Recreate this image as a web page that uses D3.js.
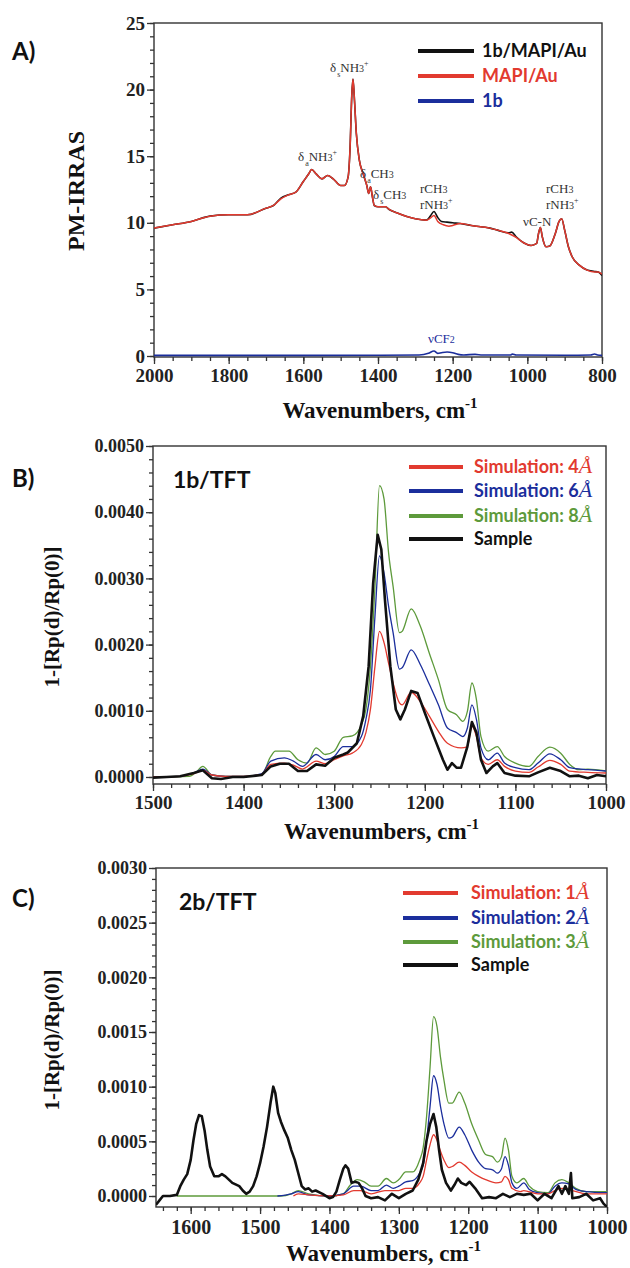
<!DOCTYPE html>
<html>
<head>
<meta charset="utf-8">
<script src="https://cdn.jsdelivr.net/npm/d3@7"></script>
<style>
  body { margin: 0; background: #fff; }
  svg text { font-family: "Liberation Serif", "Times New Roman", serif; }
  .tick text { font-weight: bold; fill: #222; }
  .sans { font-family: Lato, "Open Sans", sans-serif !important; font-weight: 700; }
</style>
</head>
<body>
<svg id="fig" width="630" height="1268"></svg>
<script>
// *************************************
// DATA  (wavenumber, value)
// *************************************

// Panel A - PM-IRRAS
const xTicksA = [2000, 1800, 1600, 1400, 1200, 1000, 800];
const yTicksA = [0, 5, 10, 15, 20, 25];

const mapiAu = [
  [2000, 9.6], [1950, 9.85], [1900, 10.1], [1850, 10.5], [1800, 10.6], [1750, 10.6], [1700, 11.1],
  [1680, 11.3], [1660, 11.8], [1640, 12.1], [1620, 12.3], [1600, 13.1], [1585, 13.7], [1578, 14.0],
  [1565, 13.65], [1550, 13.3], [1535, 13.55], [1520, 13.3], [1500, 12.8], [1490, 12.8], [1480, 13.45],
  [1475, 15.5], [1470, 19.7], [1467, 20.8], [1463, 19.2], [1458, 16.7], [1450, 14.7], [1440, 13.7],
  [1430, 12.8], [1425, 12.2], [1420, 12.7], [1415, 11.95], [1410, 11.3], [1400, 11.2], [1380, 11.2],
  [1370, 11.0], [1350, 10.75], [1300, 10.3], [1270, 10.2], [1260, 10.35], [1250, 10.55], [1240, 10.1],
  [1225, 9.85], [1210, 9.75], [1200, 9.8], [1180, 9.95], [1150, 9.8], [1100, 9.6], [1080, 9.45],
  [1050, 9.2], [1030, 8.9], [1010, 8.5], [990, 8.3], [975, 8.45], [970, 9.2], [965, 9.65], [960, 8.95],
  [950, 8.2], [940, 8.25], [925, 9.2], [915, 10.1], [908, 10.3], [900, 9.45], [890, 8.2], [880, 7.45],
  [860, 6.8], [840, 6.45], [820, 6.3], [810, 6.3], [800, 6.15]
];

const mapiAu1b = [
  [2000, 9.6], [1950, 9.85], [1900, 10.1], [1850, 10.5], [1800, 10.6], [1750, 10.6], [1700, 11.1],
  [1680, 11.3], [1660, 11.85], [1640, 12.1], [1620, 12.3], [1600, 13.1], [1585, 13.7], [1578, 14.0],
  [1565, 13.65], [1550, 13.3], [1535, 13.55], [1520, 13.3], [1500, 12.8], [1490, 12.8], [1480, 13.45],
  [1475, 15.5], [1470, 19.7], [1467, 20.8], [1463, 19.2], [1458, 16.7], [1450, 14.7], [1440, 13.7],
  [1430, 12.8], [1425, 12.2], [1420, 12.7], [1415, 11.95], [1410, 11.3], [1400, 11.2], [1380, 11.2],
  [1370, 11.0], [1350, 10.75], [1300, 10.3], [1270, 10.2], [1260, 10.5], [1250, 10.85], [1240, 10.4],
  [1230, 10.1], [1215, 10.05], [1200, 10.0], [1180, 9.95], [1150, 9.8], [1100, 9.6], [1080, 9.45],
  [1050, 9.25], [1042, 9.3], [1030, 8.95], [1010, 8.5], [990, 8.3], [975, 8.45], [970, 9.2], [965, 9.65],
  [960, 8.95], [950, 8.2], [940, 8.25], [925, 9.2], [915, 10.1], [908, 10.3], [900, 9.45], [890, 8.2],
  [880, 7.45], [860, 6.8], [840, 6.45], [820, 6.35], [810, 6.3], [800, 6.05]
];

const film1b = [
  [2000, 0.05], [1800, 0.05], [1600, 0.05], [1400, 0.06], [1290, 0.08], [1265, 0.2], [1250, 0.38],
  [1240, 0.2], [1230, 0.25], [1215, 0.3], [1200, 0.25], [1185, 0.12], [1170, 0.08], [1140, 0.12],
  [1120, 0.07], [1045, 0.08], [1040, 0.14], [1030, 0.07], [900, 0.06], [830, 0.08], [820, 0.15],
  [812, 0.08], [800, 0.05]
];

// Panel B - 1b/TFT
const xTicksB = [1500, 1400, 1300, 1200, 1100, 1000];
const yTicksB = [0, 0.001, 0.002, 0.003, 0.004, 0.005];

const sim4B = [
  [1500, 0.00000], [1470, 0.00001], [1455, 0.00005], [1445, 0.00010], [1435, 0.00003], [1420, 0.00001],
  [1400, 0.00001], [1380, 0.00004], [1370, 0.00019], [1355, 0.00021], [1345, 0.00018], [1335, 0.00012],
  [1320, 0.00024], [1310, 0.00020], [1300, 0.00026], [1290, 0.00032], [1280, 0.00036], [1270, 0.00049],
  [1265, 0.00067], [1260, 0.00102], [1255, 0.00167], [1250, 0.00220], [1245, 0.00203], [1240, 0.00172],
  [1235, 0.00142], [1228, 0.00112], [1225, 0.00109], [1215, 0.00128], [1205, 0.00114], [1195, 0.00092],
  [1185, 0.00069], [1175, 0.00051], [1160, 0.00044], [1153, 0.00046], [1148, 0.00077], [1143, 0.00061],
  [1138, 0.00029], [1130, 0.00019], [1120, 0.00026], [1112, 0.00016], [1100, 0.00009], [1085, 0.00007],
  [1075, 0.00015], [1062, 0.00025], [1050, 0.00019], [1040, 0.00009], [1020, 0.00007], [1000, 0.00006]
];

const sim6B = [
  [1500, 0.00000], [1470, 0.00001], [1455, 0.00006], [1445, 0.00012], [1435, 0.00003], [1420, 0.00001],
  [1400, 0.00001], [1380, 0.00005], [1370, 0.00024], [1355, 0.00029], [1345, 0.00024], [1335, 0.00016],
  [1320, 0.00034], [1310, 0.00026], [1300, 0.00031], [1290, 0.00046], [1280, 0.00046], [1270, 0.00061],
  [1265, 0.00087], [1260, 0.00132], [1255, 0.00243], [1250, 0.00334], [1245, 0.00308], [1240, 0.00258],
  [1235, 0.00218], [1228, 0.00163], [1225, 0.00165], [1215, 0.00192], [1205, 0.00170], [1195, 0.00140],
  [1185, 0.00109], [1175, 0.00074], [1165, 0.00067], [1158, 0.00061], [1153, 0.00074], [1148, 0.00109],
  [1143, 0.00087], [1138, 0.00044], [1130, 0.00026], [1120, 0.00036], [1112, 0.00021], [1100, 0.00014],
  [1085, 0.00011], [1075, 0.00021], [1062, 0.00035], [1050, 0.00026], [1040, 0.00014], [1020, 0.00011],
  [1000, 0.00009]
];

const sim8B = [
  [1500, 0.00000], [1460, 0.00001], [1452, 0.00008], [1445, 0.00016], [1435, 0.00003], [1420, 0.00001],
  [1400, 0.00001], [1380, 0.00004], [1370, 0.00031], [1365, 0.00039], [1350, 0.00039], [1340, 0.00026],
  [1330, 0.00021], [1320, 0.00044], [1310, 0.00034], [1300, 0.00039], [1290, 0.00060], [1280, 0.00062],
  [1270, 0.00079], [1265, 0.00102], [1260, 0.00167], [1255, 0.00288], [1250, 0.00440], [1245, 0.00420],
  [1240, 0.00339], [1235, 0.00288], [1228, 0.00218], [1225, 0.00220], [1215, 0.00254], [1205, 0.00228],
  [1195, 0.00187], [1185, 0.00147], [1175, 0.00102], [1165, 0.00094], [1158, 0.00084], [1153, 0.00099],
  [1148, 0.00142], [1143, 0.00117], [1138, 0.00061], [1130, 0.00039], [1120, 0.00046], [1112, 0.00031],
  [1100, 0.00021], [1085, 0.00016], [1075, 0.00031], [1062, 0.00045], [1050, 0.00036], [1040, 0.00019],
  [1030, 0.00011], [1020, 0.00012], [1000, 0.00009]
];

const sampleB = [
  [1500, -0.00001], [1485, 0.00000], [1470, 0.00001], [1455, 0.00006], [1445, 0.00010], [1435, -0.00002],
  [1425, -0.00003], [1412, 0.00000], [1400, 0.00000], [1380, 0.00003], [1370, 0.00016], [1360, 0.00020],
  [1350, 0.00020], [1340, 0.00009], [1330, 0.00009], [1320, 0.00019], [1310, 0.00017], [1300, 0.00029],
  [1290, 0.00034], [1285, 0.00037], [1275, 0.00051], [1268, 0.00092], [1262, 0.00167], [1257, 0.00293],
  [1252, 0.00366], [1248, 0.00344], [1244, 0.00268], [1238, 0.00167], [1232, 0.00102], [1227, 0.00087],
  [1222, 0.00102], [1215, 0.00130], [1208, 0.00127], [1200, 0.00097], [1190, 0.00061], [1180, 0.00026],
  [1175, 0.00011], [1170, 0.00021], [1165, 0.00014], [1160, 0.00014], [1153, 0.00046], [1148, 0.00083],
  [1143, 0.00067], [1138, 0.00026], [1132, 0.00006], [1125, 0.00016], [1120, 0.00021], [1112, 0.00006],
  [1100, 0.00002], [1085, 0.00001], [1075, 0.00007], [1062, 0.00014], [1050, 0.00009], [1040, 0.00001],
  [1030, 0.00002], [1020, -0.00002], [1010, 0.00003], [1000, 0.00001]
];

// Panel C - 2b/TFT
const xTicksC = [1600, 1500, 1400, 1300, 1200, 1100, 1000];
const yTicksC = [0, 0.0005, 0.001, 0.0015, 0.002, 0.0025, 0.003];

const sim1C = [
  [1452, 0.00000], [1445, 0.00002], [1430, 0.00001], [1400, 0.00000], [1380, 0.00001], [1365, 0.00005],
  [1355, 0.00005], [1340, 0.00002], [1320, 0.00005], [1300, 0.00005], [1290, 0.00007], [1280, 0.00007],
  [1270, 0.00012], [1265, 0.00018], [1260, 0.00033], [1255, 0.00047], [1250, 0.00056], [1245, 0.00051],
  [1240, 0.00041], [1235, 0.00033], [1228, 0.00026], [1223, 0.00027], [1213, 0.00031], [1205, 0.00028],
  [1195, 0.00022], [1185, 0.00018], [1175, 0.00015], [1160, 0.00012], [1152, 0.00013], [1147, 0.00018],
  [1142, 0.00015], [1137, 0.00007], [1125, 0.00004], [1120, 0.00005], [1100, 0.00002], [1085, 0.00002],
  [1075, 0.00005], [1065, 0.00007], [1050, 0.00005], [1030, 0.00002], [1000, 0.00002]
];

const sim2C = [
  [1475, 0.00000], [1455, 0.00002], [1445, 0.00004], [1430, 0.00001], [1400, 0.00000], [1380, 0.00002],
  [1365, 0.00009], [1355, 0.00009], [1340, 0.00005], [1330, 0.00005], [1318, 0.00010], [1308, 0.00007],
  [1300, 0.00009], [1290, 0.00013], [1280, 0.00014], [1270, 0.00021], [1265, 0.00028], [1260, 0.00051],
  [1255, 0.00082], [1250, 0.00110], [1245, 0.00102], [1240, 0.00082], [1235, 0.00066], [1228, 0.00053],
  [1223, 0.00054], [1213, 0.00063], [1205, 0.00056], [1195, 0.00042], [1185, 0.00031], [1175, 0.00025],
  [1165, 0.00024], [1158, 0.00021], [1152, 0.00025], [1147, 0.00036], [1142, 0.00028], [1137, 0.00012],
  [1130, 0.00007], [1120, 0.00012], [1112, 0.00006], [1100, 0.00003], [1085, 0.00002], [1075, 0.00009],
  [1065, 0.00012], [1055, 0.00011], [1045, 0.00006], [1030, 0.00004], [1000, 0.00003]
];

const sim3C = [
  [1620, 0.00000], [1470, 0.00000], [1455, 0.00002], [1445, 0.00005], [1430, 0.00002], [1400, 0.00000],
  [1380, 0.00002], [1370, 0.00010], [1360, 0.00015], [1350, 0.00013], [1340, 0.00009], [1330, 0.00009],
  [1318, 0.00016], [1308, 0.00012], [1300, 0.00015], [1290, 0.00022], [1280, 0.00022], [1270, 0.00033],
  [1265, 0.00044], [1260, 0.00073], [1255, 0.00118], [1250, 0.00164], [1245, 0.00155], [1240, 0.00127],
  [1235, 0.00106], [1228, 0.00085], [1223, 0.00085], [1213, 0.00095], [1205, 0.00085], [1195, 0.00066],
  [1185, 0.00051], [1175, 0.00038], [1165, 0.00036], [1158, 0.00031], [1152, 0.00036], [1147, 0.00053],
  [1142, 0.00042], [1137, 0.00018], [1130, 0.00012], [1120, 0.00016], [1112, 0.00009], [1100, 0.00004],
  [1085, 0.00003], [1075, 0.00012], [1065, 0.00015], [1055, 0.00012], [1045, 0.00007], [1030, 0.00004],
  [1000, 0.00004]
];

const sampleC = [
  [1650, -0.00008], [1645, -0.00004], [1640, 0.00000], [1630, 0.00000], [1620, 0.00001], [1615, 0.00009],
  [1610, 0.00015], [1605, 0.00020], [1600, 0.00033], [1596, 0.00051], [1592, 0.00066], [1588, 0.00074],
  [1584, 0.00073], [1580, 0.00060], [1576, 0.00042], [1572, 0.00027], [1566, 0.00018], [1560, 0.00018],
  [1555, 0.00020], [1550, 0.00018], [1545, 0.00015], [1540, 0.00012], [1530, 0.00009], [1525, 0.00005],
  [1520, 0.00002], [1515, 0.00004], [1510, 0.00009], [1505, 0.00018], [1500, 0.00030], [1495, 0.00045],
  [1490, 0.00063], [1485, 0.00085], [1481, 0.00100], [1478, 0.00094], [1474, 0.00076], [1470, 0.00068],
  [1465, 0.00060], [1460, 0.00053], [1455, 0.00042], [1450, 0.00033], [1445, 0.00021], [1440, 0.00009],
  [1435, 0.00006], [1430, 0.00007], [1425, 0.00004], [1420, 0.00005], [1410, 0.00002], [1400, -0.00002],
  [1395, -0.00001], [1390, 0.00004], [1385, 0.00015], [1380, 0.00025], [1377, 0.00028], [1373, 0.00025],
  [1368, 0.00012], [1363, 0.00013], [1358, 0.00012], [1353, 0.00007], [1348, 0.00000], [1340, -0.00002],
  [1330, -0.00001], [1320, -0.00004], [1310, 0.00002], [1300, -0.00002], [1290, 0.00002], [1280, 0.00005],
  [1272, 0.00015], [1265, 0.00030], [1260, 0.00051], [1255, 0.00066], [1250, 0.00075], [1246, 0.00063],
  [1242, 0.00042], [1238, 0.00024], [1232, 0.00012], [1225, 0.00005], [1220, 0.00010], [1215, 0.00016],
  [1210, 0.00012], [1203, 0.00010], [1198, 0.00013], [1190, 0.00007], [1180, -0.00002], [1170, -0.00001],
  [1160, -0.00002], [1150, 0.00002], [1140, -0.00001], [1130, 0.00002], [1120, 0.00001], [1110, 0.00002],
  [1100, -0.00004], [1090, 0.00002], [1080, -0.00002], [1070, 0.00009], [1065, 0.00002], [1060, 0.00009],
  [1055, 0.00002], [1052, 0.00021], [1050, -0.00002], [1040, -0.00001], [1030, 0.00002], [1020, -0.00004],
  [1010, -0.00002], [1005, -0.00007], [1000, -0.00010]
];

// *************************************
// STYLE
// *************************************

const RED = "#e23a2f";
const BLUE = "#1b2e9c";
const GREEN = "#5d9a3b";
const BLACK = "#111";

const svg = d3.select("#fig");
const defs = svg.append("defs");

// *************************************
// PANEL DRAWING
// *************************************

function drawPanel(p) {
  const x = d3.scaleLinear().domain(p.xDomain).range([p.left, p.right]);
  const y = d3.scaleLinear().domain(p.yDomain).range([p.bottom, p.top]);
  const g = svg.append("g");

  // minor ticks first, then the labelled ones
  g.append("g")
   .attr("transform", `translate(0,${p.bottom})`)
   .call(d3.axisBottom(x).tickValues(p.xMinor).tickSize(4).tickFormat(""))
   .call(s => s.select(".domain").remove());
  g.append("g")
   .attr("transform", `translate(${p.left},0)`)
   .call(d3.axisLeft(y).tickValues(p.yMinor).tickSize(4).tickFormat(""))
   .call(s => s.select(".domain").remove());

  g.append("g")
   .attr("transform", `translate(0,${p.bottom})`)
   .call(d3.axisBottom(x).tickValues(p.xTicks).tickSize(7).tickPadding(p.xPad).tickFormat(d3.format("d")))
   .call(s => s.select(".domain").remove())
   .selectAll("text").style("font-size", p.xFont + "px");
  g.append("g")
   .attr("transform", `translate(${p.left},0)`)
   .call(d3.axisLeft(y).tickValues(p.yTicks).tickSize(7).tickPadding(2).tickFormat(p.yFormat))
   .call(s => s.select(".domain").remove())
   .selectAll("text").style("font-size", p.yFont + "px");

  g.selectAll(".tick line").attr("stroke", "#333").attr("stroke-width", 1.3);

  // frame
  g.append("rect")
   .attr("x", p.left).attr("y", p.top)
   .attr("width", p.right - p.left).attr("height", p.bottom - p.top)
   .attr("fill", "none").attr("stroke", "#333").attr("stroke-width", 1.4);

  // clip for the curves
  const clipId = "clip" + p.id;
  defs.append("clipPath").attr("id", clipId)
      .append("rect")
      .attr("x", p.left).attr("y", p.top)
      .attr("width", p.right - p.left).attr("height", p.bottom - p.top);

  const plot = g.append("g").attr("clip-path", `url(#${clipId})`);
  p.series.forEach(s => {
    const line = d3.line()
                   .x(d => x(d[0]))
                   .y(d => y(d[1]))
                   .curve(s.noisy ? d3.curveLinear : d3.curveMonotoneX);
    plot.append("path")
        .datum(s.data)
        .attr("d", line)
        .attr("fill", "none")
        .attr("stroke", s.color)
        .attr("stroke-width", s.width)
        .attr("stroke-linejoin", "round");
  });

  // x title
  const xt = g.append("text")
              .attr("x", (p.left + p.right) / 2 + 2)
              .attr("y", p.titleY)
              .attr("text-anchor", "middle")
              .style("font-weight", "bold")
              .style("font-size", "23px")
              .style("fill", "#111");
  xt.append("tspan").text("Wavenumbers, cm");
  xt.append("tspan").attr("dy", -10).style("font-size", "15px").text("-1");

  // y title
  g.append("text")
   .attr("transform", `translate(${p.yTitleX},${p.yTitleY}) rotate(-90)`)
   .attr("text-anchor", "middle")
   .attr("dominant-baseline", "central")
   .style("font-weight", "bold")
   .style("font-size", p.yTitleFont + "px")
   .style("fill", "#111")
   .text(p.yTitle);

  // panel letter
  g.append("text").attr("class", "sans")
   .attr("x", 12).attr("y", p.letterY)
   .style("font-size", "24px").style("fill", "#111")
   .text(p.letter);

  if (p.sample) {
    g.append("text").attr("class", "sans")
     .attr("x", p.sample.x).attr("y", p.sample.y)
     .style("font-size", "23px").style("fill", "#111")
     .text(p.sample.text);
  }

  // legend
  p.legend.items.forEach((it, i) => {
    const ly = p.legend.ys[i];
    g.append("line")
     .attr("x1", p.legend.x1).attr("x2", p.legend.x2)
     .attr("y1", ly).attr("y2", ly)
     .attr("stroke", it.color).attr("stroke-width", 4);
    const t = g.append("text").attr("class", "sans")
               .attr("x", p.legend.tx).attr("y", ly + 6)
               .style("font-size", p.legend.font + "px")
               .style("fill", it.color);
    t.append("tspan").text(it.label);
    if (it.unit) {
      t.append("tspan")
       .style("font-family", "'Liberation Serif', serif")
       .style("font-style", "italic")
       .style("font-weight", "normal")
       .style("font-size", (p.legend.font + 4) + "px")
       .text(it.unit);
    }
  });

  return { x, y, g };
}

// *************************************
// PANELS
// *************************************

const panelA = drawPanel({
  id: "A", left: 154, right: 602, top: 23, bottom: 357,
  xDomain: [2000, 800], yDomain: [-0.075, 25],
  xTicks: xTicksA, xMinor: d3.range(2000, 799, -50),
  yTicks: yTicksA, yMinor: d3.range(0, 25.01, 1),
  yFormat: d3.format("d"), xFont: 19, yFont: 19, xPad: 5,
  titleY: 418, yTitle: "PM-IRRAS", yTitleX: 76, yTitleY: 191, yTitleFont: 24,
  letter: "A)", letterY: 60,
  series: [
    { data: film1b, color: BLUE, width: 1.6 },
    { data: mapiAu1b, color: BLACK, width: 1.6 },
    { data: mapiAu, color: RED, width: 1.5 }
  ],
  legend: {
    x1: 418, x2: 474, tx: 482, font: 18, ys: [51, 76, 101],
    items: [
      { label: "1b/MAPI/Au", color: BLACK },
      { label: "MAPI/Au", color: RED },
      { label: "1b", color: BLUE }
    ]
  }
});

// peak annotations in panel A
const notes = [
  { x: 330, y: 72, parts: [["δ"], ["s", "sub"], ["NH"], ["3", "small"], ["+", "sup"]] },
  { x: 298, y: 161, parts: [["δ"], ["a", "sub"], ["NH"], ["3", "small"], ["+", "sup"]] },
  { x: 360, y: 178, parts: [["δ"], ["a", "sub"], ["CH"], ["3", "small"]] },
  { x: 373, y: 199, parts: [["δ"], ["s", "sub"], ["CH"], ["3", "small"]] },
  { x: 420, y: 193, parts: [["rCH"], ["3", "small"]] },
  { x: 420, y: 209, parts: [["rNH"], ["3", "small"], ["+", "sup"]] },
  { x: 523, y: 226, parts: [["νC-N"]] },
  { x: 546, y: 193, parts: [["rCH"], ["3", "small"]] },
  { x: 546, y: 209, parts: [["rNH"], ["3", "small"], ["+", "sup"]] },
  { x: 428, y: 343, parts: [["νCF"], ["2", "small"]], color: BLUE }
];

notes.forEach(n => {
  const t = panelA.g.append("text")
                  .attr("x", n.x).attr("y", n.y)
                  .style("font-size", "13px")
                  .style("fill", n.color || "#333");
  let shift = 0;
  n.parts.forEach(([txt, kind]) => {
    const target = kind === "sub" ? 5 : kind === "sup" ? -6 : 0;
    const ts = t.append("tspan").attr("dy", target - shift).text(txt);
    if (kind) ts.style("font-size", kind === "small" ? "10px" : "8px");
    if (kind === "sub") ts.attr("dx", 1);
    shift = target;
  });
});

drawPanel({
  id: "B", left: 153, right: 606, top: 446, bottom: 784,
  xDomain: [1500, 1000], yDomain: [-0.000106, 0.005],
  xTicks: xTicksB, xMinor: d3.range(1500, 999, -20),
  yTicks: yTicksB, yMinor: d3.range(0, 0.00501, 0.0002),
  yFormat: d3.format(".4f"), xFont: 19, yFont: 18, xPad: 5,
  titleY: 839, yTitle: "1-[Rp(d)/Rp(0)]", yTitleX: 52, yTitleY: 617, yTitleFont: 21,
  letter: "B)", letterY: 487,
  sample: { x: 173, y: 488, text: "1b/TFT" },
  series: [
    { data: sim8B, color: GREEN, width: 1.3 },
    { data: sim6B, color: BLUE, width: 1.3 },
    { data: sim4B, color: RED, width: 1.3 },
    { data: sampleB, color: BLACK, width: 2.6, noisy: true }
  ],
  legend: {
    x1: 409, x2: 463, tx: 474, font: 18, ys: [467, 491, 516, 539],
    items: [
      { label: "Simulation: 4", unit: "Å", color: RED },
      { label: "Simulation: 6", unit: "Å", color: BLUE },
      { label: "Simulation: 8", unit: "Å", color: GREEN },
      { label: "Sample", color: BLACK }
    ]
  }
});

drawPanel({
  id: "C", left: 156, right: 607, top: 868, bottom: 1207,
  xDomain: [1650, 1000], yDomain: [-0.0001006, 0.003],
  xTicks: xTicksC, xMinor: d3.range(1640, 999, -20),
  yTicks: yTicksC, yMinor: d3.range(0, 0.00301, 0.0001),
  yFormat: d3.format(".4f"), xFont: 20, yFont: 18, xPad: 6,
  titleY: 1261, yTitle: "1-[Rp(d)/Rp(0)]", yTitleX: 52, yTitleY: 1040, yTitleFont: 21,
  letter: "C)", letterY: 907,
  sample: { x: 179, y: 910, text: "2b/TFT" },
  series: [
    { data: sim3C, color: GREEN, width: 1.3 },
    { data: sim2C, color: BLUE, width: 1.3 },
    { data: sim1C, color: RED, width: 1.3 },
    { data: sampleC, color: BLACK, width: 2.6, noisy: true }
  ],
  legend: {
    x1: 403, x2: 458, tx: 471, font: 18, ys: [893, 918, 942, 965],
    items: [
      { label: "Simulation: 1", unit: "Å", color: RED },
      { label: "Simulation: 2", unit: "Å", color: BLUE },
      { label: "Simulation: 3", unit: "Å", color: GREEN },
      { label: "Sample", color: BLACK }
    ]
  }
});
</script>
</body>
</html>
